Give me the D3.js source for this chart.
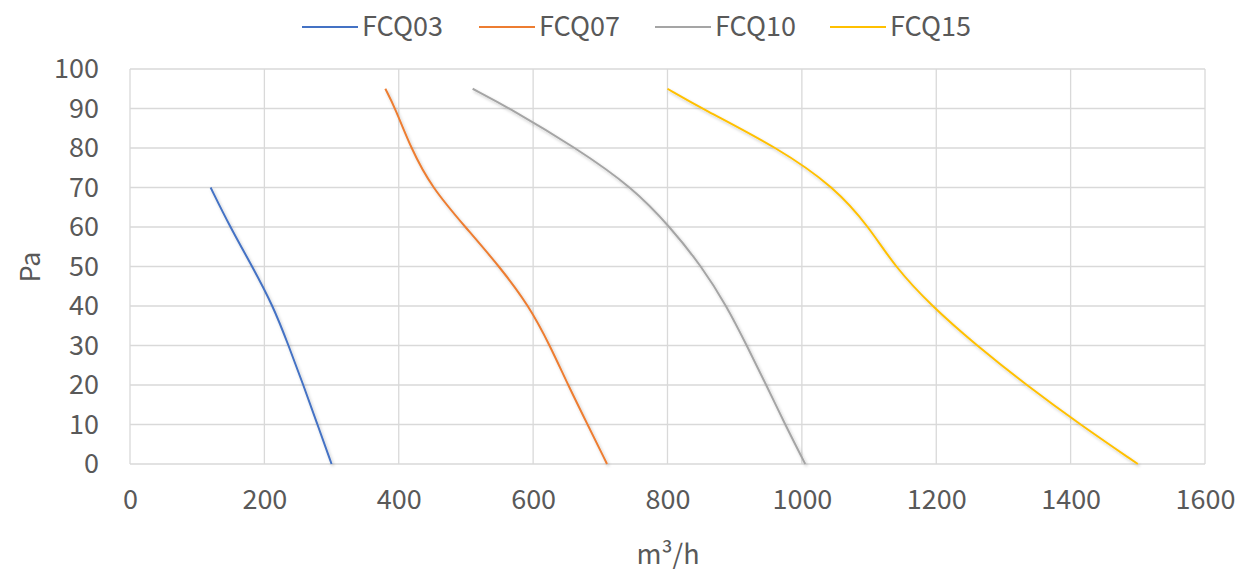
<!DOCTYPE html>
<html><head><meta charset="utf-8">
<script src="https://cdn.jsdelivr.net/npm/d3@7"></script>
<style>
html,body{margin:0;padding:0;background:#fff;}
text{font-family:"Noto Sans CJK SC","Noto Sans",sans-serif;fill:#595959;}
</style></head>
<body><svg id="c" width="1240" height="571"></svg>
<script>
const seriesNames = ["FCQ03","FCQ07","FCQ10","FCQ15"];
const colors = ["#4472C4","#ED7D31","#A5A5A5","#FFC000"];
const fcq03 = [[120,70],[149,60],[182,50],[213,40],[236,30],[258,20],[279,10],[300,0]];
const fcq07 = [[380,95],[395,90],[418,80],[449,70],[499,60],[550,50],[594,40],[625,30],[652,20],[681,10],[710,0]];
const fcq10 = [[510,95],[566,90],[664,80],[748,70],[804,60],[851,50],[888,40],[918,30],[947,20],[975,10],[1005,0]];
const fcq15 = [[800,95],[851,90],[965,80],[1049,70],[1100,60],[1138,50],[1193,40],[1260,30],[1334,20],[1414,10],[1500,0]];
const seriesData = [fcq03,fcq07,fcq10,fcq15];
const xTicks = [0,200,400,600,800,1000,1200,1400,1600];
const yTicks = [0,10,20,30,40,50,60,70,80,90,100];

const svg = d3.select("#c");
const L=130,R=1205,T=69,B=464;
const x = d3.scaleLinear().domain([0,1600]).range([L,R]);
const y = d3.scaleLinear().domain([0,100]).range([B,T]);

const defs = svg.append("defs");
const f = defs.append("filter").attr("id","sh").attr("x","-10%").attr("y","-10%").attr("width","130%").attr("height","130%");
f.append("feDropShadow").attr("dx",1.5).attr("dy",2).attr("stdDeviation",1.5).attr("flood-color","#000").attr("flood-opacity",0.22);

const fs = "27px";
// gridlines
const g = svg.append("g");
g.selectAll(".hx").data(yTicks).join("line")
  .attr("x1",L).attr("x2",R).attr("y1",d=>y(d)).attr("y2",d=>y(d))
  .attr("stroke","#D9D9D9").attr("stroke-width",1.3);
g.selectAll(".vx").data(xTicks).join("line")
  .attr("y1",T).attr("y2",B).attr("x1",d=>x(d)).attr("x2",d=>x(d))
  .attr("stroke","#D9D9D9").attr("stroke-width",1.3);

// axes labels
const yAxis = d3.axisLeft(y).tickValues(yTicks).tickFormat(d3.format("d")).tickSize(0).tickPadding(31);
const ya = svg.append("g").attr("transform",`translate(${L},0)`).call(yAxis);
ya.select(".domain").remove();
ya.selectAll("text").style("font-size",fs).attr("fill","#595959").style("font-family",null);

const xAxis = d3.axisBottom(x).tickValues(xTicks).tickFormat(d3.format("d")).tickSize(0).tickPadding(26);
const xa = svg.append("g").attr("transform",`translate(0,${B})`).call(xAxis);
xa.select(".domain").remove();
xa.selectAll("text").style("font-size",fs).attr("fill","#595959").style("font-family",null);

// axis titles
svg.append("text").attr("transform","translate(40,267) rotate(-90)").attr("text-anchor","middle")
  .style("font-size",fs).text("Pa");
svg.append("text").attr("x",668).attr("y",564).attr("text-anchor","middle")
  .style("font-size",fs).text("m³/h");

// lines
const line = d3.line().x(d=>x(d[0])).y(d=>y(d[1])).curve(d3.curveBasis);
svg.append("g").selectAll("path").data(seriesData).join("path")
  .attr("d",line).attr("fill","none").attr("stroke",(d,i)=>colors[i]).attr("stroke-width",2)
  .attr("filter","url(#sh)");

// legend
const legX = [302,479,655,830];
const lg = svg.append("g").selectAll("g").data(seriesNames).join("g")
  .attr("transform",(d,i)=>`translate(${legX[i]},27)`);
lg.append("line").attr("x1",0).attr("x2",56).attr("y1",0).attr("y2",0)
  .attr("stroke",(d,i)=>colors[i]).attr("stroke-width",2);
lg.append("text").attr("x",60).attr("y",9).style("font-size",fs).text(d=>d);
</script></body></html>
